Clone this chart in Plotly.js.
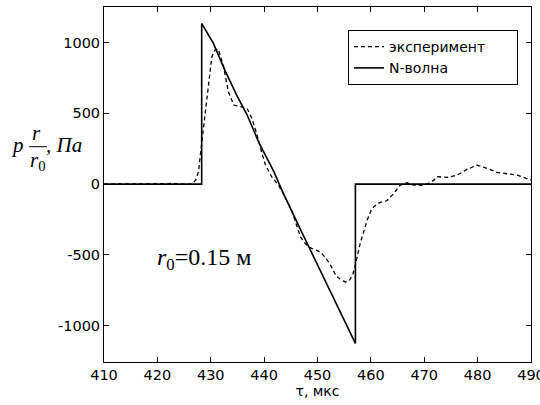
<!DOCTYPE html>
<html>
<head>
<meta charset="utf-8">
<script src="https://cdn.plot.ly/plotly-3.0.1.min.js"></script>
<style>
html,body{margin:0;padding:0;background:#fff;}
#chart{width:540px;height:405px;}
</style>
</head>
<body>
<div id="chart"></div>
<script>
// Experiment (dashed)
const expT = [410, 420, 422, 422.7, 423.5, 425, 426.5, 427.2, 427.7, 428.3, 428.9, 429.55, 430.2, 430.8, 431.4, 432.4, 433.3, 434.3, 435.5, 436.8, 437.7, 438.6, 439.6, 440.2, 441.4, 442.7, 443.9, 445.2, 446.8, 447.7, 448.6, 449.5, 450.5, 451.5, 452.4, 453.5, 454.5, 455.3, 456.0, 456.6, 457.1, 458.0, 459.3, 460.2, 461.5, 463.0, 464.3, 465.5, 466.8, 468.0, 469.3, 470.8, 471.8, 472.4, 474.3, 476.2, 478.0, 479.9, 481.8, 483.7, 485.5, 487.4, 489.6, 490];
const expP = [0, 0, 3, 6, 2, 0, 0, 30, 87, 288, 488, 688, 900, 948, 955, 830, 653, 559, 547, 535, 465, 358, 217, 140, 52, -7, -90, -190, -373, -420, -450, -465, -480, -520, -570, -650, -680, -692, -680, -640, -570, -420, -255, -172, -132, -118, -66, -7, 9, -7, -10, 5, 28, 52, 47, 64, 104, 134, 111, 82, 75, 64, 33, 28];
// N-wave (solid)
const nT = [410, 428.3, 428.3, 430.5, 432.7, 434.9, 436.8, 439.0, 441.8, 443.6, 446.8, 450.5, 452.1, 457.1, 457.1, 490];
const nP = [0, 0, 1136, 995, 800, 625, 490, 295, 90, -66, -320, -608, -730, -1127, 0, 0];
// Labels
const legendNames = ['эксперимент', 'N-волна'];
const xTicks = [410, 420, 430, 440, 450, 460, 470, 480, 490];
const yTicks = [-1000, -500, 0, 500, 1000];
const xTitle = 'τ, мкс';
const noteText = '<i>r</i><sub>0</sub>=0.15 м';

const serif = 'Liberation Serif, Times New Roman, serif';
const sans = 'DejaVu Sans, Arial, sans-serif';
const pad = '\u00a0\u00a0\u00a0\u00a0\u00a0\u00a0';

const traces = [
  {x: expT, y: expP, name: legendNames[0] + pad, mode: 'lines', line: {color: '#000', width: 1.3, dash: '4px,3px'}},
  {x: nT, y: nP, name: legendNames[1], mode: 'lines', line: {color: '#000', width: 1.6}}
];

const layout = {
  width: 540, height: 405,
  margin: {l: 104, r: 9, t: 7, b: 43},
  paper_bgcolor: '#fff', plot_bgcolor: '#fff',
  showlegend: true,
  legend: {x: 0.5714, xanchor: 'left', y: 0.935, yanchor: 'top', bordercolor: '#000', borderwidth: 1,
           bgcolor: '#fff', font: {family: sans, size: 14, color: '#000'}, itemwidth: 30, tracegroupgap: 0},
  xaxis: {range: [410, 490], tickvals: xTicks, ticktext: xTicks.map(String), ticks: 'inside', ticklen: 5,
          tickcolor: '#000', showline: true, linecolor: '#000', linewidth: 1, mirror: 'ticks',
          ticklabeloverflow: 'allow',
          showgrid: false, zeroline: false, tickfont: {family: sans, size: 14.5, color: '#000'},
          title: {text: xTitle, font: {family: sans, size: 14, color: '#000'}, standoff: 3}},
  yaxis: {range: [-1258, 1252], tickvals: yTicks, ticktext: yTicks.map(String), ticks: 'inside', ticklen: 5,
          tickcolor: '#000', showline: true, linecolor: '#000', linewidth: 1, mirror: 'ticks',
          ticklabeloverflow: 'allow',
          showgrid: false, zeroline: false, tickfont: {family: sans, size: 14.5, color: '#000'}},
  annotations: [
    {xref: 'x', yref: 'y', x: 419.6, y: -530, xanchor: 'left', yanchor: 'middle', showarrow: false,
     text: noteText, font: {family: serif, size: 24, color: '#000'}},
    {xref: 'paper', yref: 'paper', x: -0.2026, y: 0.611, xanchor: 'center', yanchor: 'middle', showarrow: false,
     text: '<i>p</i>', font: {family: serif, size: 21, color: '#000'}},
    {xref: 'paper', yref: 'paper', x: -0.157, y: 0.645, xanchor: 'center', yanchor: 'middle', showarrow: false,
     text: '<i>r</i>', font: {family: serif, size: 21, color: '#000'}},
    {xref: 'paper', yref: 'paper', x: -0.1534, y: 0.566, xanchor: 'center', yanchor: 'middle', showarrow: false,
     text: '<i>r</i><sub>0</sub>', font: {family: serif, size: 21, color: '#000'}},
    {xref: 'paper', yref: 'paper', x: -0.0948, y: 0.611, xanchor: 'center', yanchor: 'middle', showarrow: false,
     text: '<i>, Па</i>', font: {family: serif, size: 21, color: '#000'}}
  ],
  shapes: [
    {type: 'line', xref: 'paper', yref: 'paper', x0: -0.1756, x1: -0.1335, y0: 0.6065, y1: 0.6065,
     line: {color: '#000', width: 1}}
  ]
};

Plotly.newPlot('chart', traces, layout, {displayModeBar: false, staticPlot: true});
</script>
</body>
</html>
